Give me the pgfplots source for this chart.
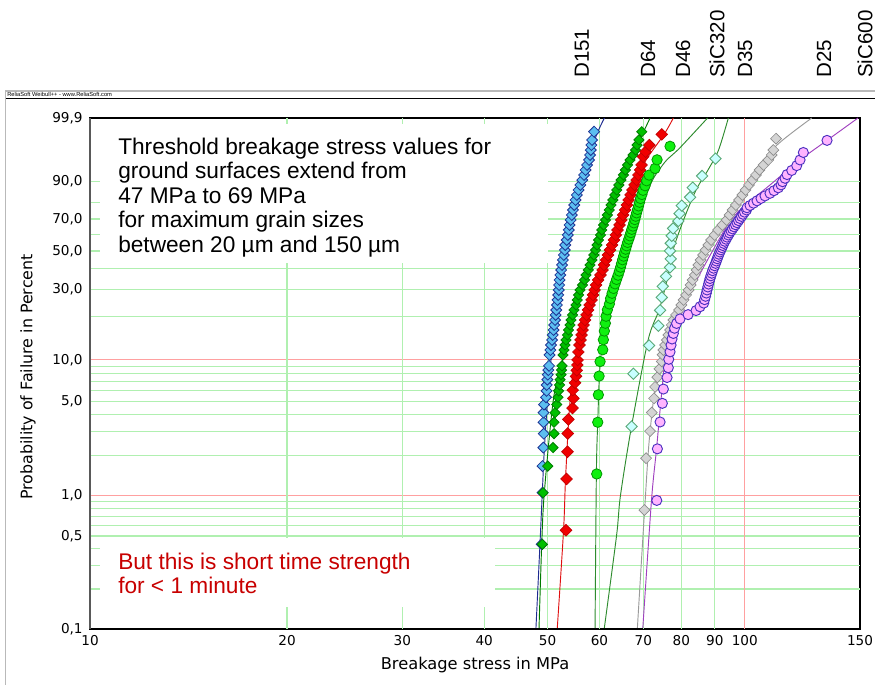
\documentclass[border=0pt]{standalone}
\usepackage{pgfplots}
\usepackage{pgfplotstable}
\pgfplotsset{compat=1.18}
\usepackage{fontspec}
\setmainfont{Liberation Sans}
\newfontfamily\dejavu{DejaVu Sans}

\definecolor{gridg}{HTML}{B0F0B0}
\definecolor{gridr}{HTML}{FFA0A0}
\definecolor{cAf}{HTML}{5CBEF0}\definecolor{cAe}{HTML}{1E3494}\definecolor{cAl}{HTML}{1E2A90}
\definecolor{cBf}{HTML}{00C000}\definecolor{cBe}{HTML}{007E00}\definecolor{cBl}{HTML}{007A00}
\definecolor{cCf}{HTML}{F00000}\definecolor{cCe}{HTML}{C00000}\definecolor{cCl}{HTML}{E01010}
\definecolor{cDf}{HTML}{10F010}\definecolor{cDe}{HTML}{009600}\definecolor{cDl}{HTML}{2E8B2E}
\definecolor{cEf}{HTML}{C8FFFF}\definecolor{cEe}{HTML}{5AA878}\definecolor{cEl}{HTML}{2E8B2E}
\definecolor{cFf}{HTML}{D4D4D4}\definecolor{cFe}{HTML}{8C8C8C}\definecolor{cFl}{HTML}{9A9A9A}
\definecolor{cGf}{HTML}{FFB4FF}\definecolor{cGe}{HTML}{4A30C0}\definecolor{cGl}{HTML}{A040C0}
\definecolor{txtred}{HTML}{C80000}

% columns: s = breakage stress (MPa), F = probability of failure (%)
\pgfplotstableread{
s F
48.97 0.43
49.11 1.05
49.11 1.66
49.25 2.28
49.32 2.89
49.28 3.51
49.28 4.13
49.37 4.74
49.72 5.36
49.81 5.97
49.84 6.59
49.95 7.20
50.02 7.82
50.12 8.44
50.25 9.05
50.33 10.82
50.48 11.73
50.60 12.72
50.78 13.79
50.90 14.94
51.05 16.17
51.17 17.50
51.32 18.92
51.43 20.44
51.54 22.07
51.66 23.80
51.77 25.65
51.90 27.62
51.99 29.70
52.06 31.90
52.15 34.23
52.28 36.67
52.44 39.23
52.60 41.91
52.76 44.69
52.93 47.57
53.11 50.54
53.20 53.59
53.48 56.70
53.67 59.86
53.86 63.03
54.01 66.21
54.22 69.37
54.44 72.47
54.66 75.50
54.91 78.42
55.16 81.21
55.41 83.85
55.75 86.30
56.10 88.56
56.48 90.58
56.84 92.40
57.14 93.98
57.44 95.33
57.84 96.46
58.05 97.38
58.19 98.11
58.31 98.68
58.46 99.11
58.87 99.57
}\dA
\pgfplotstableread{
s F
49.08 0.43
49.20 1.05
50.02 1.66
50.96 2.28
51.14 2.89
51.14 3.51
51.32 4.13
51.63 4.74
51.86 5.36
51.95 5.97
52.14 6.59
52.23 7.20
52.41 7.82
52.50 8.44
52.60 9.05
52.78 10.82
52.97 11.73
53.16 12.72
53.34 13.79
53.62 14.94
53.81 16.17
54.10 17.50
54.29 18.92
54.58 20.44
54.86 22.07
55.25 23.80
55.49 25.65
55.75 27.62
56.04 29.70
56.54 31.90
56.94 34.23
57.24 36.67
57.70 39.23
58.05 41.91
58.46 44.69
58.83 47.57
59.18 50.54
59.50 53.59
59.81 56.70
60.23 59.86
60.49 63.03
60.87 66.21
61.30 69.37
61.69 72.47
62.10 75.50
62.50 78.42
62.90 81.21
63.34 83.85
63.76 86.30
64.24 88.56
64.74 90.58
65.27 92.40
65.73 93.98
66.24 95.33
66.82 96.46
67.53 97.38
68.13 98.11
68.49 98.68
68.93 99.11
69.63 99.57
}\dB
\pgfplotstableread{
s F
53.34 0.55
53.44 1.33
53.62 2.12
53.66 2.90
53.78 3.69
54.58 4.47
54.73 5.26
54.62 6.04
55.06 6.83
55.25 7.61
55.39 8.40
55.51 9.18
55.55 9.97
55.71 11.36
55.94 12.72
56.14 13.79
56.34 14.94
56.54 16.17
56.74 17.50
57.04 18.92
57.34 20.44
57.64 22.07
57.95 23.80
58.36 25.65
58.66 27.62
58.98 29.70
59.29 31.90
59.71 34.23
60.23 36.67
60.66 39.23
60.98 41.91
61.41 44.69
61.84 47.57
62.28 50.54
62.72 53.59
63.16 56.70
63.56 59.86
63.94 63.03
64.40 66.21
64.78 69.37
65.20 72.47
65.66 75.50
66.08 78.42
66.47 81.21
66.94 83.85
67.37 86.30
67.89 88.56
68.37 90.58
68.80 92.40
69.22 93.98
69.58 95.33
69.95 97.10
70.57 97.88
71.52 98.67
74.71 99.45
}\dC
\pgfplotstableread{
s F
59.43 1.45
59.64 3.51
59.77 5.58
59.92 7.64
60.13 9.71
60.70 11.78
60.83 13.84
61.04 15.91
61.26 17.98
61.41 20.04
61.69 22.11
62.13 24.17
62.39 26.24
62.72 28.31
63.05 30.37
63.38 32.44
63.72 34.50
64.06 36.57
64.35 38.64
64.62 40.70
64.85 42.77
65.08 44.83
65.31 46.90
65.54 48.97
65.78 51.03
66.01 53.10
66.24 55.17
66.52 57.23
66.78 59.30
67.01 61.36
67.23 63.43
67.49 65.50
67.72 67.56
67.94 69.63
68.15 71.69
68.37 73.76
68.61 75.83
68.85 77.89
69.09 79.96
69.33 82.02
69.66 84.09
69.95 86.16
70.44 88.22
70.82 90.29
71.44 92.36
72.97 94.42
73.48 96.49
76.92 98.55
}\dD
\pgfplotstableread{
s F
67.18 3.27
67.60 7.94
71.44 12.62
73.82 17.29
74.26 21.96
74.71 26.64
74.97 31.31
75.84 35.98
76.92 40.65
77.11 45.33
76.92 50.00
77.11 54.67
77.38 59.35
77.74 64.02
79.19 68.69
79.52 73.36
80.14 78.04
82.51 82.71
83.30 87.38
86.07 92.06
90.25 96.73
}\dE
\pgfplotstableread{
s F
70.27 0.78
70.69 1.90
71.69 3.02
72.12 4.14
72.71 5.26
72.97 6.38
73.56 7.49
74.08 8.61
74.71 9.73
74.92 10.85
75.13 11.73
75.58 12.72
76.03 13.79
76.45 14.94
76.91 16.17
77.37 17.50
77.81 18.92
78.55 20.44
79.38 22.07
80.03 23.80
80.65 25.65
81.36 27.62
82.08 29.70
82.66 31.90
83.24 34.23
83.89 36.67
84.42 39.23
84.96 41.91
85.62 44.69
86.37 47.57
87.13 50.54
87.97 53.59
88.84 56.70
89.94 59.86
91.05 63.03
92.44 66.21
93.81 69.37
94.80 72.47
95.80 75.50
96.92 78.42
98.02 81.21
99.16 83.85
100.28 86.30
101.52 88.56
102.78 90.58
104.05 92.40
105.34 93.98
106.84 95.33
108.65 96.46
109.96 97.38
110.58 98.11
111.64 99.20
}\dF
\pgfplotstableread{
s F
73.40 0.92
73.56 2.23
74.26 3.53
74.86 4.84
75.13 6.15
76.11 7.46
76.45 8.77
76.56 10.08
76.91 11.39
77.18 12.70
77.45 14.01
77.81 15.31
78.14 16.62
78.69 17.93
79.66 19.24
81.94 20.55
84.27 21.86
85.46 23.17
86.58 24.48
86.83 25.79
87.13 27.09
87.38 28.40
87.59 29.71
87.84 31.02
88.06 32.33
88.28 33.64
88.52 34.95
88.77 36.26
89.06 37.57
89.31 38.87
89.62 40.18
89.94 41.49
90.25 42.80
90.51 44.11
90.79 45.42
91.05 46.73
91.31 48.04
91.63 49.35
91.95 50.65
92.28 51.96
92.57 53.27
92.89 54.58
93.22 55.89
93.65 57.20
93.98 58.51
94.41 59.82
94.80 61.13
95.30 62.43
95.80 63.74
96.31 65.05
96.82 66.36
97.33 67.67
97.84 68.98
98.36 70.29
98.88 71.60
99.40 72.91
99.93 74.21
100.64 75.52
100.81 76.83
101.88 78.14
103.14 79.45
104.42 80.76
105.90 82.07
107.40 83.38
109.30 84.69
110.85 85.99
112.54 87.30
113.62 88.61
114.22 89.92
115.23 91.23
116.04 92.54
117.98 93.85
120.07 95.16
121.47 96.47
122.89 97.77
133.57 99.08
}\dG

\begin{document}
\begin{tikzpicture}
\useasboundingbox (0,0) rectangle (656.25pt,513.75pt);
\clip (0,0) rectangle (656.25pt,513.75pt);
\fill[white] (0,0) rectangle (656.25pt,513.75pt);
\begin{scope}[x=0.75pt,y=-0.75pt,shift={(0,513.75pt)}]
  \draw[gray!55, line width=1.3pt] (5.5,690) -- (5.5,91) -- (885,91);
  \draw[black, line width=0.6pt] (6,98) -- (885,98);
  \node[anchor=west, inner sep=0, font=\fontsize{4.3}{5}\selectfont] at (7,94.6) {ReliaSoft Weibull++ - www.ReliaSoft.com};
\end{scope}
\begin{axis}[
  at={(67.5pt,42pt)}, anchor=south west,
  scale only axis, width=577.5pt, height=383.25pt,
  xmode=log, xmin=10, xmax=150,
  ymin=-6.9073, ymax=1.9327,
  y filter/.expression={ln(-ln(1-y/100))},
  axis line style={black, line width=0.8pt},
  xtick={10,20,30,40,50,60,70,80,90,100,150},
  xticklabels={10,20,30,40,50,60,70,80,90,100,150},
  ytick={-6.9073,-5.2958,-4.6001,-2.9701,-2.2504,-1.0309,-0.3665,0.1856,0.8340,1.9327},
  yticklabels={{0,1},{0,5},{1,0},{5,0},{10,0},{30,0},{50,0},{70,0},{90,0},{99,9}},
  major tick length=0pt, minor tick length=0pt,
  tick label style={font=\dejavu\fontsize{10.2}{12}\selectfont, text=black},
  yticklabel style={xshift=-2pt},
  xticklabel style={yshift=-1pt},
  mA/.style={only marks, mark=square*, mark size=2.9pt, mark options={rotate=45, fill=cAf, draw=cAe, line width=0.6pt}},
  mB/.style={only marks, mark=square*, mark size=2.7pt, mark options={rotate=45, fill=cBf, draw=cBe, line width=0.6pt}},
  mC/.style={only marks, mark=square*, mark size=3.1pt, mark options={rotate=45, fill=cCf, draw=cCe, line width=0.5pt}},
  mD/.style={only marks, mark=*, mark size=3.9pt, mark options={fill=cDf, draw=cDe, line width=0.6pt}},
  mE/.style={only marks, mark=square*, mark size=3.0pt, mark options={rotate=45, fill=cEf, draw=cEe, line width=0.7pt}},
  mF/.style={only marks, mark=square*, mark size=2.9pt, mark options={rotate=45, fill=cFf, draw=cFe, line width=0.5pt}},
  mG/.style={only marks, mark=*, mark size=3.8pt, mark options={fill=cGf, draw=cGe, line width=0.7pt}},
  fit/.style={no marks, smooth, line width=0.7pt},
]
% grid
\pgfplotsinvokeforeach{-6.2136,-5.8077,-5.5196,-5.2958,-5.1130,-4.9583,-4.8243,-4.7060,-3.9019,-3.4913,-3.1985,-2.9701,-2.7826,-2.6233,-2.4843,-2.3612,-1.4999,-1.0309,-0.6717,-0.3665,-0.0874,0.1856,0.4759,0.8340}{
  \draw[gridg, line width=1pt] (axis cs:10,#1) -- (axis cs:150,#1);}
\pgfplotsinvokeforeach{-4.6001,-2.2504}{
  \draw[gridr, line width=1pt] (axis cs:10,#1) -- (axis cs:150,#1);}
\pgfplotsinvokeforeach{20,30,40,50,60,70,80,90}{
  \draw[gridg, line width=1pt] (axis cs:#1,-6.9073) -- (axis cs:#1,1.9327);}
\draw[gridr, line width=1pt] (axis cs:100,-6.9073) -- (axis cs:100,1.9327);
% white text panels
\fill[white] (axis cs:10.36,-0.576) rectangle (axis cs:50.14,1.829);
\fill[white] (axis cs:10.36,-6.527) rectangle (axis cs:41.56,-5.334);
% data
\addplot[mA] table[x=s,y=F] {\dA};
\addplot[fit, cAl] coordinates {(47.99,0.1) (48.67,0.43) (49.07,1.05) (49.42,2.19) (49.98,5.12) (50.60,10) (51.87,25.65) (53.54,50.54) (55.65,81.21) (57.74,96.46) (59.38,99.42) (61.04,99.9)};
\addplot[mB] table[x=s,y=F] {\dB};
\addplot[fit, cBl] coordinates {(48.51,0.1) (48.97,0.43) (49.42,1.05) (51.01,5.12) (52.69,10) (55.49,25.65) (59.18,50.54) (62.90,81.21) (66.82,96.46) (70.07,99.57) (71.69,99.9)};
\addplot[mC] table[x=s,y=F] {\dC};
\addplot[fit, cCl] coordinates {(51.73,0.1) (52.88,0.55) (53.25,1.33) (54.00,4.47) (55.06,9.97) (58.36,25.65) (62.28,50.54) (66.47,81.21) (68.49,90.58) (70.69,96.46) (75.31,99.45) (77.81,99.9)};
\addplot[mD] table[x=s,y=F] {\dD};
\addplot[fit, cDl] coordinates {(59.08,0.1) (59.35,1.45) (59.64,3.51) (60.23,10) (62.28,25.65) (65.66,50.54) (70.20,81.21) (72.33,90.58) (74.00,94.0) (76.03,96.46) (79.66,98.4) (87.75,99.9)};
\addplot[mE] table[x=s,y=F] {\dE};
\addplot[fit, cEl] coordinates {(61.04,0.1) (63.72,0.5) (64.60,1.0) (67.18,3.3) (71.20,13.79) (74.00,22.07) (76.11,34.23) (77.74,50.54) (80.65,69.37) (84.27,86.3) (87.90,94.0) (91.21,98.11) (94.40,99.9)};
\addplot[mF] table[x=s,y=F] {\dF};
\addplot[fit, cFl] coordinates {(68.56,0.1) (70.32,0.78) (71.69,3.02) (74.26,10) (80.51,25.65) (87.13,50.54) (97.68,81.21) (104.79,93.98) (112.03,98.68) (126.57,99.9)};
\addplot[mG] table[x=s,y=F] {\dG};
\addplot[fit, cGl] coordinates {(69.88,0.1) (72.05,0.92) (73.34,2.23) (74.78,6.15) (75.84,10) (81.66,25.65) (89.47,50.54) (96.65,72.47) (109.30,88.56) (121.47,96.46) (133.57,99.08) (148.96,99.9)};
\end{axis}
\begin{scope}[x=0.75pt,y=-0.75pt,shift={(0,513.75pt)}]
  \draw[gray!70!black, line width=1.2pt] (90,118) -- (90,629);
  \begin{scope}[font=\fontsize{17}{20}\selectfont]
    \node[anchor=base west, inner sep=0] at (118,154.5) {Threshold breakage stress values for};
    \node[anchor=base west, inner sep=0] at (118,179) {ground surfaces extend from};
    \node[anchor=base west, inner sep=0] at (118,203.5) {47 MPa to 69 MPa};
    \node[anchor=base west, inner sep=0] at (118,228) {for maximum grain sizes};
    \node[anchor=base west, inner sep=0] at (118,252.5) {between 20 µm and 150 µm};
    \node[anchor=base west, inner sep=0, text=txtred] at (118,569.5) {But this is short time strength};
    \node[anchor=base west, inner sep=0, text=txtred] at (118,594) {for < 1 minute};
  \end{scope}
  \begin{scope}[font=\fontsize{15.4}{18}\selectfont]
    \node[rotate=90, anchor=west, inner sep=0] at (582,78) {D151};
    \node[rotate=90, anchor=west, inner sep=0] at (648,78) {D64};
    \node[rotate=90, anchor=west, inner sep=0] at (683,78) {D46};
    \node[rotate=90, anchor=west, inner sep=0] at (717,78) {SiC320};
    \node[rotate=90, anchor=west, inner sep=0] at (745,78) {D35};
    \node[rotate=90, anchor=west, inner sep=0] at (824,78) {D25};
    \node[rotate=90, anchor=west, inner sep=0] at (865,78) {SiC600};
  \end{scope}
  \node[font=\dejavu\fontsize{12.2}{14}\selectfont] at (475,665) {Breakage stress in MPa};
  \node[rotate=90, font=\dejavu\fontsize{11.9}{14}\selectfont] at (28,377) {Probability of Failure in Percent};
\end{scope}
\end{tikzpicture}
\end{document}
